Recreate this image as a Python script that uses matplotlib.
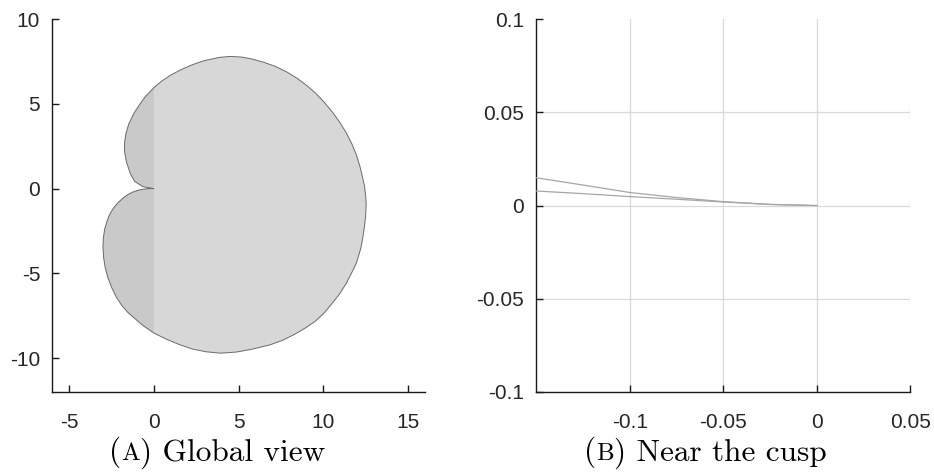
import matplotlib
matplotlib.use("Agg")
import matplotlib.pyplot as plt
from matplotlib.patches import Polygon
from matplotlib.offsetbox import TextArea, HPacker, AnnotationBbox

# ---- data ----
# outline of the region (global view), traversed from the cusp
outline_x = [0.0, -0.25, -0.65, -1.14, -1.40, -1.62, -1.73, -1.72, -1.64, -1.48,
             -1.20, -0.85, -0.50, 0.0, 0.45, 1.0, 1.61, 2.3, 2.98, 3.86,
             4.5, 5.2, 5.82, 6.5, 7.2, 7.85, 8.47, 9.03, 9.55, 10.05,
             10.55, 10.98, 11.35, 11.68, 11.95, 12.15, 12.3, 12.43, 12.5, 12.53,
             12.5, 12.42, 12.33, 12.22, 11.95, 11.71, 11.35, 10.97, 10.5, 10.04,
             9.5, 8.9, 8.3, 7.6, 6.85, 5.82, 4.9, 3.96, 3.1, 2.29,
             1.5, 0.73, 0.0, -0.65, -1.1, -1.53, -1.9, -2.21, -2.48, -2.71,
             -2.87, -2.96, -3.0, -2.98, -2.9, -2.77, -2.61,
             -2.38, -2.12, -1.83, -1.53, -1.23, -0.94, -0.6, -0.3]
outline_y = [0.0, 0.04, 0.12, 0.43, 0.92, 1.6, 2.2, 2.75, 3.27, 3.8,
             4.4, 4.94, 5.43, 5.95, 6.33, 6.7, 7.02, 7.32, 7.55, 7.74,
             7.8, 7.76, 7.64, 7.45, 7.2, 6.88, 6.5, 6.08, 5.63, 5.1,
             4.5, 3.9, 3.3, 2.65, 2.0, 1.35, 0.75, 0.15, -0.4, -0.95,
             -1.6, -2.3, -2.9, -3.5, -4.4, -4.9, -5.6, -6.2, -6.8, -7.35,
             -7.85, -8.25, -8.6, -8.95, -9.22, -9.47, -9.64, -9.71, -9.63, -9.47,
             -9.2, -8.88, -8.52, -8.07, -7.68, -7.31, -6.88, -6.4, -5.85, -5.25,
             -4.65, -4.08, -3.45, -2.95, -2.4, -1.95, -1.53,
             -1.15, -0.84, -0.57, -0.35, -0.2, -0.10, -0.03, 0.0]

# zoom near the cusp: two boundary branches
cusp_x = [-0.15, -0.125, -0.1, -0.075, -0.05, -0.025, 0.0]
cusp_upper_y = [0.0149, 0.0110, 0.0070, 0.0043, 0.0021, 0.0006, 0.0]
cusp_lower_y = [0.0078, 0.0064, 0.0048, 0.0034, 0.0019, 0.0006, 0.0]

left_xticks = [-5, 0, 5, 10, 15]
left_yticks = [-10, -5, 0, 5, 10]
right_xticks = [-0.1, -0.05, 0, 0.05]
right_xticklabels = ["-0.1", "-0.05", "0", "0.05"]
right_yticks = [-0.1, -0.05, 0, 0.05, 0.1]
right_yticklabels = ["-0.1", "-0.05", "0", "0.05", "0.1"]

caption_a = ("(", "A", ") Global view")
caption_b = ("(", "B", ") Near the cusp")

# ---- figure ----
plt.rcParams['font.family'] = ['Liberation Sans', 'DejaVu Sans']
fig = plt.figure(figsize=(9.34, 4.72), dpi=100)

ax1 = fig.add_axes([0.0557, 0.1695, 0.3994, 0.790])
ax2 = fig.add_axes([0.5742, 0.1695, 0.4004, 0.790])

tick_color = '#262626'
for ax in (ax1, ax2):
    ax.spines['top'].set_visible(False)
    ax.spines['right'].set_visible(False)
    for s in ('left', 'bottom'):
        ax.spines[s].set_linewidth(1.0)
        ax.spines[s].set_color('#1a1a1a')
    ax.tick_params(direction='in', length=5, width=1.0, labelsize=15,
                   colors='#1a1a1a', labelcolor=tick_color)
    ax.tick_params(axis='x', pad=15)
    ax.tick_params(axis='y', pad=8.6)

# left panel
pts = list(zip(outline_x, outline_y))
poly = Polygon(pts, closed=True, facecolor='#d7d7d7', edgecolor='none',
               linewidth=0, zorder=2)
ax1.add_patch(poly)
dark = ax1.axvspan(-6, 0, color='#c9c9c9', lw=0, zorder=2.1)
dark.set_clip_path(poly)
edge = Polygon(pts, closed=True, facecolor='none', edgecolor='#6a6a6a',
               linewidth=0.7, joinstyle='round', zorder=3)
ax1.add_patch(edge)
ax1.set_xlim(-6, 16)
ax1.set_ylim(-12, 10)
ax1.set_aspect('equal')
ax1.set_xticks(left_xticks)
ax1.set_yticks(left_yticks)
ax1.set_xticklabels([str(t) for t in left_xticks])
ax1.set_yticklabels([str(t) for t in left_yticks])

# right panel
ax2.plot(cusp_x, cusp_upper_y, color='#a6a6a6', lw=0.9, zorder=3)
ax2.plot(cusp_x, cusp_lower_y, color='#a6a6a6', lw=0.9, zorder=3)
ax2.set_xlim(-0.15, 0.05)
ax2.set_ylim(-0.1, 0.1)
ax2.set_xticks(right_xticks)
ax2.set_xticklabels(right_xticklabels)
ax2.set_yticks(right_yticks)
ax2.set_yticklabels(right_yticklabels)
ax2.grid(True, color='#d9d9d9', lw=0.9)
ax2.set_axisbelow(True)
ax2.get_ygridlines()[-1].set_visible(False)


def caption(parts, xfig, yfig):
    big = dict(fontfamily='cmr10', fontsize=22.5, color='black')
    small = dict(fontfamily='cmr10', fontsize=18, color='black')
    box = HPacker(children=[TextArea(parts[0], textprops=big),
                            TextArea(parts[1], textprops=small),
                            TextArea(parts[2], textprops=big)],
                  align='baseline', pad=0, sep=0)
    ab = AnnotationBbox(box, (xfig, yfig), xycoords='figure fraction',
                        box_alignment=(0.5, 0.0), frameon=False, pad=0)
    fig.add_artist(ab)


caption(caption_a, 0.2325, 0.007)
caption(caption_b, 0.755, 0.007)

fig.savefig('out.png', dpi=100)
